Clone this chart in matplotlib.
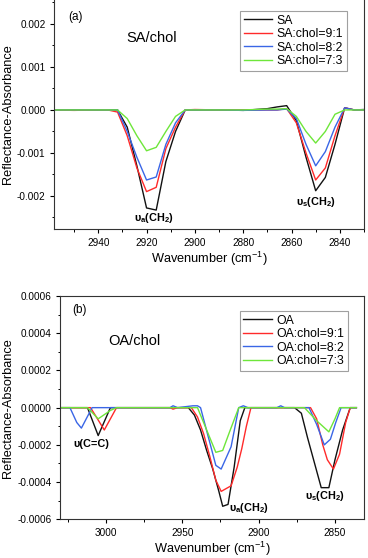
import matplotlib
matplotlib.use("Agg")
import matplotlib.pyplot as plt
from matplotlib.ticker import MultipleLocator, FormatStrFormatter

plt.rcParams['font.family'] = ['Liberation Sans', 'DejaVu Sans']
plt.rcParams['mathtext.fontset'] = 'custom'
plt.rcParams['mathtext.rm'] = 'Liberation Sans'
plt.rcParams['mathtext.bf'] = 'Liberation Sans:bold'

# ---------------- Panel (a): SA/chol ----------------
sa_wn = [2960, 2950, 2940, 2936, 2932, 2928, 2924, 2920, 2916, 2912, 2908, 2904,
         2900, 2890, 2880, 2870, 2866, 2862, 2858, 2854, 2850, 2846, 2842, 2838,
         2834, 2830]
sa_pure = [0, 0, 0, 0, 0, -0.0004, -0.0013, -0.00228, -0.00233, -0.0012, -0.0005, 0,
           0, 0, -0.00001, 0.00003, 0.00007, 0.0001, -0.00025, -0.0011, -0.00188,
           -0.00157, -0.0008, 0.00005, 0, 0.00001]
sa_91 = [0, -0.00001, 0, 0, -0.00005, -0.0006, -0.00135, -0.0019, -0.0018, -0.0009,
         -0.0004, 0, 0.00001, 0, 0, 0, 0, 0.00003, -0.0003, -0.001, -0.00163,
         -0.00135, -0.0006, 0.00005, 0, 0]
sa_82 = [0, 0, 0, 0, 0, -0.0005, -0.0011, -0.00163, -0.00156, -0.0008, -0.0003, 0,
         0, 0, -0.00001, 0, 0, 0.00002, -0.0002, -0.0008, -0.0013, -0.00097,
         -0.0004, 0.00005, 0, 0]
sa_73 = [0, 0, 0, 0, 0, -0.0002, -0.0006, -0.00095, -0.00087, -0.0005, -0.00015, 0,
         0, 0, 0, 0.00002, 0.00002, 0.00003, -0.00015, -0.0005, -0.00077, -0.0005,
         -0.0001, 0, 0, 0]
sa_labels = ['SA', 'SA:chol=9:1', 'SA:chol=8:2', 'SA:chol=7:3']

# ---------------- Panel (b): OA/chol ----------------
oa_wn = [3030, 3012, 3005, 2997, 2960, 2946, 2942, 2938, 2934, 2930, 2926, 2923.5,
         2920, 2916, 2912, 2909, 2880, 2876.5, 2872, 2868, 2864, 2859, 2854, 2850,
         2845, 2840, 2836]
oa_pure = [0, 0, -0.00015, 0, 0, 0, -0.00004, -0.00012, -0.00023, -0.00033, -0.00045,
           -0.00053, -0.00052, -0.00032, -0.00007, 0, 0, 0, -0.00003, -0.00016,
           -0.00028, -0.00043, -0.00043, -0.00028, -0.00012, 0, 0]

oa91_wn = [3030, 3010, 3001, 2993, 2958, 2956, 2953, 2944, 2940, 2936, 2932, 2928,
           2924.5, 2918, 2914, 2911, 2908, 2905, 2866, 2862, 2858, 2855, 2851, 2847,
           2843, 2840, 2836]
oa_91 = [0, 0, -0.00012, 0, 0, -0.000008, 0, 0, -0.00005, -0.00014, -0.00026, -0.00039,
         -0.00045, -0.00042, -0.00032, -0.00022, -0.0001, 0, 0, -0.00006, -0.0002,
         -0.00028, -0.00033, -0.00025, -0.00008, 0, 0]

oa82_wn = [3030, 3023.5, 3019, 3016, 3009, 2958, 2956, 2953, 2943, 2940, 2938, 2928,
           2924.5, 2918, 2913, 2910, 2907, 2888, 2885.5, 2883, 2867, 2862, 2857,
           2853, 2849.5, 2846, 2843, 2836]
oa_82 = [0, 0, -0.00008, -0.00011, 0, 0, 0.00001, 0, 0.00001, 0.00001, 0, -0.00031,
         -0.00033, -0.00021, 0, 0.00001, 0, 0, 0.00001, 0, 0, -0.00009, -0.0002,
         -0.00017, -0.00008, 0, 0, 0]

oa73_wn = [3030, 3012, 3005, 2997, 2993, 2940, 2936, 2931, 2928, 2923.5, 2919, 2913,
           2870, 2862, 2854, 2850, 2847, 2836]
oa_73 = [0, 0, -0.00006, -0.000015, 0, 0, -0.00008, -0.00018, -0.00024, -0.00023,
         -0.00013, 0, 0, -0.00007, -0.00013, -0.00006, 0, 0]
oa_labels = ['OA', 'OA:chol=9:1', 'OA:chol=8:2', 'OA:chol=7:3']

colors = ['#111111', '#ff2a2a', '#3a66e6', '#6ee63a']

W, H = 368, 558
fig = plt.figure(figsize=(W / 100, H / 100), dpi=100)


def px_axes(l, t, r, b):
    return fig.add_axes([l / W, 1 - b / H, (r - l) / W, (b - t) / H])


def style(ax):
    ax.tick_params(axis='both', which='major', direction='out', length=3.2,
                   width=0.8, labelsize=7.2, pad=3)
    ax.tick_params(axis='both', which='minor', direction='out', length=1.8, width=0.7)
    for s in ax.spines.values():
        s.set_linewidth(0.8)
        s.set_color('#333333')


lab_fs = 9.2

# ---- top panel ----
ax1 = px_axes(54, -1.8, 364, 229)
for y, c, lab in zip([sa_pure, sa_91, sa_82, sa_73], colors, sa_labels):
    ax1.plot(sa_wn, y, color=c, lw=1.0, label=lab)
ax1.set_xlim(2958.3, 2830)
ax1.set_ylim(-0.00277, 0.0026)
ax1.xaxis.set_major_locator(MultipleLocator(20))
ax1.xaxis.set_minor_locator(MultipleLocator(10))
ax1.yaxis.set_major_locator(MultipleLocator(0.001))
ax1.yaxis.set_minor_locator(MultipleLocator(0.0005))
ax1.yaxis.set_major_formatter(FormatStrFormatter('%.3f'))
style(ax1)
ax1.set_xlabel('Wavenumber (cm$^{-1}$)', fontsize=lab_fs, labelpad=1.5)
ax1.set_ylabel('Reflectance-Absorbance', fontsize=lab_fs, labelpad=2)
leg1 = ax1.legend(loc='upper right', bbox_to_anchor=(347 / W, 1 - 11 / H),
                  bbox_transform=fig.transFigure, fontsize=8.8, frameon=True,
                  fancybox=False, edgecolor='#888888', handlelength=2.3,
                  handletextpad=0.4, labelspacing=0.12, borderpad=0.3,
                  borderaxespad=0)
leg1.get_frame().set_linewidth(0.8)
ax1.text(2952.5, 0.00216, '(a)', fontsize=8.5, ha='left', va='center')
ax1.text(2917.8, 0.00167, 'SA/chol', fontsize=10.5, ha='center', va='center')
ax1.text(2916.7, -0.00251, 'υ$_\\mathbf{a}$(CH$_\\mathbf{2}$)', fontsize=7.8,
         fontweight='bold', ha='center', va='center')
ax1.text(2850, -0.00214, 'υ$_\\mathbf{s}$(CH$_\\mathbf{2}$)', fontsize=7.8,
         fontweight='bold', ha='center', va='center')

# ---- bottom panel ----
ax2 = px_axes(60, 296, 364, 519.3)
ax2.plot(oa_wn, oa_pure, color=colors[0], lw=1.0, label=oa_labels[0])
ax2.plot(oa91_wn, oa_91, color=colors[1], lw=1.0, label=oa_labels[1])
ax2.plot(oa82_wn, oa_82, color=colors[2], lw=1.0, label=oa_labels[2])
ax2.plot(oa73_wn, oa_73, color=colors[3], lw=1.0, label=oa_labels[3])
ax2.set_xlim(3030, 2831)
ax2.set_ylim(-0.0006, 0.0006)
ax2.xaxis.set_major_locator(MultipleLocator(50))
ax2.xaxis.set_minor_locator(MultipleLocator(25))
ax2.yaxis.set_major_locator(MultipleLocator(0.0002))
ax2.yaxis.set_minor_locator(MultipleLocator(0.0001))
ax2.yaxis.set_major_formatter(FormatStrFormatter('%.4f'))
style(ax2)
ax2.set_xlabel('Wavenumber (cm$^{-1}$)', fontsize=lab_fs, labelpad=1.0)
ax2.set_ylabel('Reflectance-Absorbance', fontsize=lab_fs, labelpad=2)
leg2 = ax2.legend(loc='upper right', bbox_to_anchor=(348 / W, 1 - 311 / H),
                  bbox_transform=fig.transFigure, fontsize=8.8, frameon=True,
                  fancybox=False, edgecolor='#888888', handlelength=2.3,
                  handletextpad=0.4, labelspacing=0.12, borderpad=0.3,
                  borderaxespad=0)
leg2.get_frame().set_linewidth(0.8)
ax2.text(3022.2, 0.000523, '(b)', fontsize=8.5, ha='left', va='center')
ax2.text(2981, 0.000356, 'OA/chol', fontsize=10.5, ha='center', va='center')
ax2.text(3009.5, -0.000197, 'υ(C=C)', fontsize=7.8, fontweight='bold',
         ha='center', va='center')
ax2.text(2906.4, -0.00054, 'υ$_\\mathbf{a}$(CH$_\\mathbf{2}$)', fontsize=7.8,
         fontweight='bold', ha='center', va='center')
ax2.text(2856.5, -0.000477, 'υ$_\\mathbf{s}$(CH$_\\mathbf{2}$)', fontsize=7.8,
         fontweight='bold', ha='center', va='center')

fig.savefig('out.png', dpi=100)
